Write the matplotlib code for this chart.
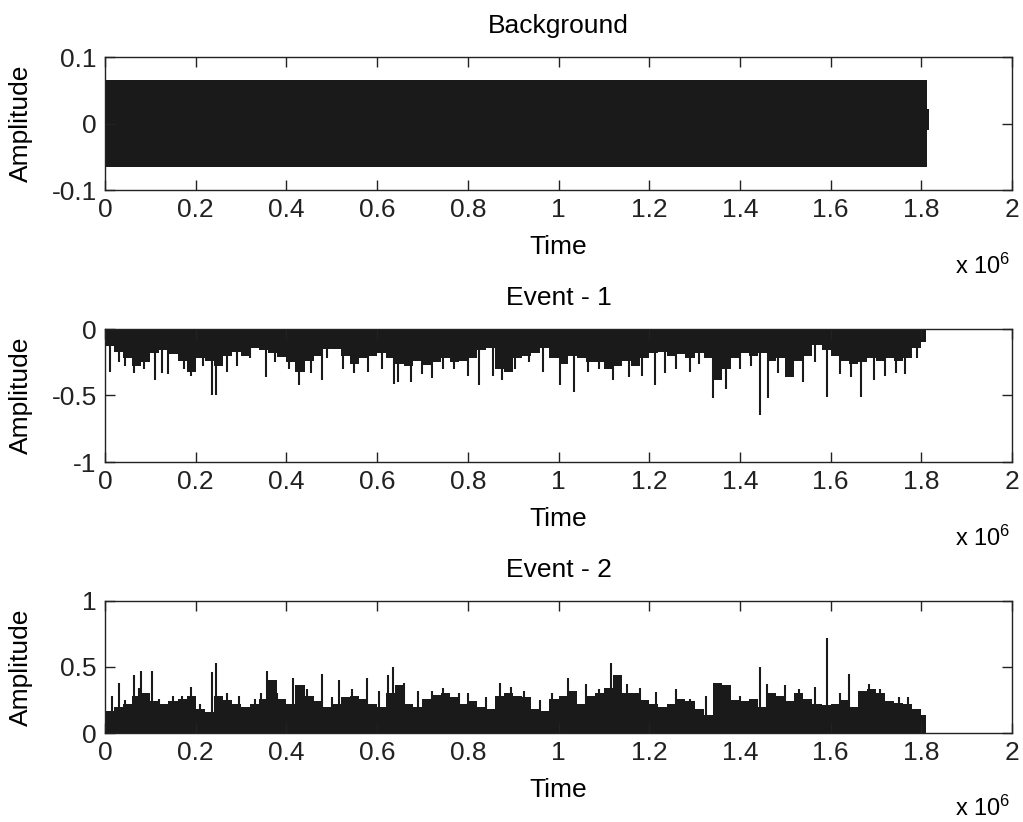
import numpy as np
import matplotlib
matplotlib.use("Agg")
import matplotlib.pyplot as plt

# ---------------- data ----------------
SCALE = 1e6
signal_end = 1.81  # x 10^6

# Background: dense band, ± amplitude envelope (time in x10^6)
bg_time = [0.0, 1.812, 1.818]
bg_upper = [0.065, 0.022, 0.022]
bg_lower = [-0.065, -0.010, -0.010]

# envelope sample step 0.02 x10^6, starting at t = 0
env_step = 0.02
event1_env = [
    -0.13, -0.17, -0.22, -0.28, -0.25, -0.18, -0.16, -0.19, -0.24, -0.32,
    -0.22, -0.24, -0.28, -0.20, -0.17, -0.20, -0.14, -0.16, -0.18, -0.21,
    -0.25, -0.32, -0.24, -0.20, -0.15, -0.15, -0.20, -0.26, -0.22, -0.20,
    -0.18, -0.22, -0.26, -0.28, -0.24, -0.27, -0.25, -0.22, -0.25, -0.24,
    -0.22, -0.16, -0.14, -0.30, -0.32, -0.22, -0.20, -0.18, -0.14, -0.22,
    -0.26, -0.20, -0.22, -0.25, -0.25, -0.30, -0.28, -0.24, -0.28, -0.22,
    -0.18, -0.17, -0.20, -0.19, -0.22, -0.18, -0.22, -0.38, -0.30, -0.22,
    -0.18, -0.20, -0.18, -0.24, -0.22, -0.36, -0.24, -0.20, -0.12, -0.16,
    -0.20, -0.24, -0.26, -0.25, -0.22, -0.24, -0.22, -0.24, -0.22, -0.14,
    -0.10,
]
event1_spike_t = [
    0.01, 0.03, 0.045, 0.065, 0.085, 0.11, 0.125, 0.14, 0.175, 0.19,
    0.215, 0.235, 0.245, 0.27, 0.29, 0.32, 0.355, 0.375, 0.405, 0.428,
    0.455, 0.478, 0.49, 0.525, 0.55, 0.58, 0.61, 0.637, 0.645, 0.675,
    0.70, 0.72, 0.745, 0.77, 0.80, 0.825, 0.855, 0.875, 0.905, 0.935,
    0.965, 1.004, 1.034, 1.065, 1.09, 1.12, 1.155, 1.185, 1.212, 1.235,
    1.26, 1.29, 1.31, 1.34, 1.369, 1.40, 1.425, 1.445, 1.462, 1.485,
    1.515, 1.54, 1.565, 1.591, 1.62, 1.645, 1.668, 1.695, 1.72, 1.745,
    1.765, 1.79,
]
event1_spike_v = [
    -0.32, -0.25, -0.28, -0.33, -0.30, -0.38, -0.33, -0.34, -0.30, -0.35,
    -0.28, -0.50, -0.50, -0.32, -0.28, -0.22, -0.36, -0.25, -0.30, -0.42,
    -0.33, -0.38, -0.22, -0.30, -0.33, -0.32, -0.30, -0.41, -0.40, -0.40,
    -0.34, -0.37, -0.30, -0.30, -0.35, -0.42, -0.35, -0.38, -0.30, -0.25,
    -0.32, -0.42, -0.47, -0.32, -0.30, -0.38, -0.36, -0.35, -0.42, -0.33,
    -0.30, -0.32, -0.26, -0.52, -0.45, -0.30, -0.28, -0.65, -0.52, -0.33,
    -0.35, -0.40, -0.25, -0.51, -0.34, -0.36, -0.51, -0.38, -0.35, -0.33,
    -0.34, -0.22,
]

event2_env = [
    0.17, 0.20, 0.22, 0.28, 0.30, 0.24, 0.22, 0.24, 0.26, 0.28,
    0.18, 0.16, 0.28, 0.25, 0.22, 0.20, 0.22, 0.26, 0.40, 0.26,
    0.22, 0.36, 0.28, 0.24, 0.20, 0.22, 0.27, 0.28, 0.26, 0.22,
    0.20, 0.30, 0.36, 0.22, 0.20, 0.26, 0.29, 0.30, 0.27, 0.22,
    0.24, 0.20, 0.18, 0.28, 0.30, 0.28, 0.27, 0.18, 0.17, 0.26,
    0.28, 0.32, 0.22, 0.28, 0.30, 0.34, 0.44, 0.30, 0.30, 0.25,
    0.22, 0.20, 0.22, 0.26, 0.24, 0.18, 0.14, 0.38, 0.36, 0.25,
    0.24, 0.26, 0.20, 0.30, 0.28, 0.24, 0.30, 0.26, 0.22, 0.21,
    0.22, 0.25, 0.20, 0.32, 0.33, 0.30, 0.24, 0.23, 0.22, 0.18,
    0.14,
]
event2_spike_t = [
    0.015, 0.03, 0.045, 0.065, 0.075, 0.08, 0.103, 0.12, 0.15, 0.17,
    0.19, 0.21, 0.235, 0.245, 0.27, 0.295, 0.33, 0.345, 0.358, 0.38,
    0.415, 0.445, 0.478, 0.50, 0.515, 0.545, 0.577, 0.605, 0.625, 0.636,
    0.66, 0.69, 0.72, 0.745, 0.78, 0.80, 0.84, 0.87, 0.895, 0.925,
    0.96, 0.985, 1.022, 1.06, 1.09, 1.115, 1.15, 1.18, 1.215, 1.26,
    1.29, 1.325, 1.365, 1.40, 1.445, 1.46, 1.50, 1.53, 1.565, 1.591,
    1.62, 1.641, 1.685, 1.71, 1.75, 1.77,
]
event2_spike_v = [
    0.28, 0.38, 0.25, 0.44, 0.34, 0.47, 0.47, 0.26, 0.28, 0.28,
    0.35, 0.22, 0.46, 0.53, 0.30, 0.28, 0.26, 0.30, 0.47, 0.30,
    0.42, 0.33, 0.45, 0.27, 0.40, 0.33, 0.42, 0.32, 0.44, 0.50,
    0.38, 0.32, 0.32, 0.34, 0.30, 0.30, 0.27, 0.38, 0.35, 0.32,
    0.25, 0.30, 0.42, 0.37, 0.33, 0.53, 0.37, 0.34, 0.31, 0.33,
    0.26, 0.28, 0.36, 0.28, 0.50, 0.37, 0.36, 0.33, 0.35, 0.72,
    0.30, 0.45, 0.37, 0.33, 0.27, 0.27,
]

titles = ["Background", "Event - 1", "Event - 2"]
xticks = [0, 0.2, 0.4, 0.6, 0.8, 1.0, 1.2, 1.4, 1.6, 1.8, 2.0]
xtick_labels = ["0", "0.2", "0.4", "0.6", "0.8", "1", "1.2", "1.4", "1.6", "1.8", "2"]
yticks = [[-0.1, 0, 0.1], [-1, -0.5, 0], [0, 0.5, 1]]
ytick_labels = [["-0.1", "0", "0.1"], ["-1", "-0.5", "0"], ["0", "0.5", "1"]]
ylims = [(-0.1, 0.1), (-1, 0), (0, 1)]

# ---------------- figure ----------------
plt.rcParams["font.family"] = ["Liberation Sans", "DejaVu Sans"]
plt.rcParams["mathtext.fontset"] = "custom"
plt.rcParams["mathtext.rm"] = "Liberation Sans"
plt.rcParams["mathtext.it"] = "Liberation Sans"

FS = 19
INK = "#1a1a1a"

fig = plt.figure(figsize=(10.23, 8.22), dpi=100)
W, H = 1023, 822
boxes = [(105, 57, 1012, 190), (105, 329, 1012, 462), (105, 601, 1012, 733)]
axes = []
for (l, t, r, b) in boxes:
    axes.append(fig.add_axes([l / W, 1 - b / H, (r - l) / W, (b - t) / H]))

# Background
ax = axes[0]
bt = np.array(bg_time) * SCALE
ax.fill_between(bt, bg_lower, bg_upper, step="post", color=INK, linewidth=0)

def draw_event(ax, env, st, sv):
    env = np.array(env)
    t = np.arange(len(env)) * env_step
    t = np.append(t, signal_end) * SCALE
    y = np.append(env, env[-1])
    ax.fill_between(t, 0, y, step="post", color=INK, linewidth=0)
    ax.vlines(np.array(st) * SCALE, 0, sv, color=INK, linewidth=1.5)

draw_event(axes[1], event1_env, event1_spike_t, event1_spike_v)
draw_event(axes[2], event2_env, event2_spike_t, event2_spike_v)

for i, ax in enumerate(axes):
    ax.set_xlim(0, 2 * SCALE)
    ax.set_ylim(*ylims[i])
    ax.set_xticks(np.array(xticks) * SCALE)
    ax.set_xticklabels(xtick_labels)
    ax.set_yticks(yticks[i])
    ax.set_yticklabels(ytick_labels[i])
    ax.tick_params(direction="in", top=True, right=True, length=7, width=1.0,
                   labelsize=FS, pad=6, colors="#222222")
    for s in ax.spines.values():
        s.set_linewidth(1.0)
        s.set_color("#222222")
    ax.set_title(titles[i], fontsize=FS, pad=17)
    ax.set_xlabel("Time", fontsize=FS)
    ax.set_ylabel("Amplitude", fontsize=FS)
    ax.xaxis.set_label_coords(0.5, -0.34)
    ax.yaxis.set_label_coords(-0.079, 0.5)
    ax.text(0.9985, -0.63, r"x 10$^{6}$", transform=ax.transAxes,
            ha="right", va="baseline", fontsize=17)

fig.savefig("out.png", dpi=100)
